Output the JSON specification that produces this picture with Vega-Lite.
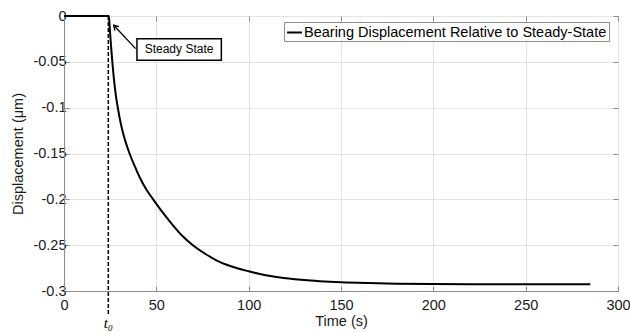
{
  "$schema": "https://vega.github.io/schema/vega-lite/v6.json",
  "width": 554,
  "height": 275,
  "autosize": {"type": "none"},
  "padding": {"left": 64, "top": 16, "right": 12, "bottom": 41},
  "background": "white",
  "config": {
    "font": "Liberation Sans",
    "view": {"stroke": "#8c8c8c", "strokeWidth": 1},
    "axis": {
      "labelFont": "Liberation Sans",
      "labelFontSize": 14.5,
      "labelColor": "#1a1a1a",
      "titleFont": "Liberation Sans",
      "titleFontSize": 14.5,
      "titleFontWeight": "normal",
      "titleColor": "#1a1a1a",
      "domainColor": "#8c8c8c",
      "tickColor": "#8c8c8c",
      "gridColor": "#e3e3e3",
      "gridWidth": 1
    }
  },
  "datasets": {
    "curve": [
      {"t": 0, "y": 0, "series": "Bearing Displacement Relative to Steady-State"},
      {"t": 24.3, "y": 0, "series": "Bearing Displacement Relative to Steady-State"},
      {"t": 24.8, "y": -0.014, "series": "Bearing Displacement Relative to Steady-State"},
      {"t": 25.3, "y": -0.028, "series": "Bearing Displacement Relative to Steady-State"},
      {"t": 25.8, "y": -0.041, "series": "Bearing Displacement Relative to Steady-State"},
      {"t": 26.3, "y": -0.053, "series": "Bearing Displacement Relative to Steady-State"},
      {"t": 26.9, "y": -0.066, "series": "Bearing Displacement Relative to Steady-State"},
      {"t": 27.6, "y": -0.079, "series": "Bearing Displacement Relative to Steady-State"},
      {"t": 28.4, "y": -0.091, "series": "Bearing Displacement Relative to Steady-State"},
      {"t": 29.3, "y": -0.102, "series": "Bearing Displacement Relative to Steady-State"},
      {"t": 30.5, "y": -0.115, "series": "Bearing Displacement Relative to Steady-State"},
      {"t": 32.0, "y": -0.128, "series": "Bearing Displacement Relative to Steady-State"},
      {"t": 33.6, "y": -0.139, "series": "Bearing Displacement Relative to Steady-State"},
      {"t": 35.5, "y": -0.150, "series": "Bearing Displacement Relative to Steady-State"},
      {"t": 38.0, "y": -0.1625, "series": "Bearing Displacement Relative to Steady-State"},
      {"t": 40.9, "y": -0.1756, "series": "Bearing Displacement Relative to Steady-State"},
      {"t": 44.5, "y": -0.189, "series": "Bearing Displacement Relative to Steady-State"},
      {"t": 48.1, "y": -0.1995, "series": "Bearing Displacement Relative to Steady-State"},
      {"t": 53.0, "y": -0.2132, "series": "Bearing Displacement Relative to Steady-State"},
      {"t": 59.0, "y": -0.2283, "series": "Bearing Displacement Relative to Steady-State"},
      {"t": 64.0, "y": -0.2397, "series": "Bearing Displacement Relative to Steady-State"},
      {"t": 69.8, "y": -0.25, "series": "Bearing Displacement Relative to Steady-State"},
      {"t": 76.0, "y": -0.2588, "series": "Bearing Displacement Relative to Steady-State"},
      {"t": 82.5, "y": -0.2665, "series": "Bearing Displacement Relative to Steady-State"},
      {"t": 90.0, "y": -0.2727, "series": "Bearing Displacement Relative to Steady-State"},
      {"t": 100.0, "y": -0.2785, "series": "Bearing Displacement Relative to Steady-State"},
      {"t": 110.0, "y": -0.2831, "series": "Bearing Displacement Relative to Steady-State"},
      {"t": 120.4, "y": -0.2861, "series": "Bearing Displacement Relative to Steady-State"},
      {"t": 130.0, "y": -0.2881, "series": "Bearing Displacement Relative to Steady-State"},
      {"t": 138.4, "y": -0.2893, "series": "Bearing Displacement Relative to Steady-State"},
      {"t": 150.0, "y": -0.2905, "series": "Bearing Displacement Relative to Steady-State"},
      {"t": 165.0, "y": -0.2914, "series": "Bearing Displacement Relative to Steady-State"},
      {"t": 180.0, "y": -0.2920, "series": "Bearing Displacement Relative to Steady-State"},
      {"t": 200.0, "y": -0.2924, "series": "Bearing Displacement Relative to Steady-State"},
      {"t": 225.0, "y": -0.2926, "series": "Bearing Displacement Relative to Steady-State"},
      {"t": 250.0, "y": -0.2927, "series": "Bearing Displacement Relative to Steady-State"},
      {"t": 285.0, "y": -0.2927, "series": "Bearing Displacement Relative to Steady-State"}
    ],
    "marker": [{"t": 24, "y": 0, "y2": -0.326, "ty": -0.335, "label": "t₀"}],
    "arrow": [{"t": 38.8, "y": -0.0356, "t2": 26.9, "y2": -0.0101}],
    "box": [{"t": 39.5, "t2": 85.2, "y": -0.0247, "y2": -0.0483, "tc": 62.3, "yc": -0.0365, "label": "Steady State"}]
  },
  "layer": [
    {
      "layer": [
        {
          "data": {"name": "curve"},
          "mark": {"type": "line", "strokeWidth": 2, "interpolate": "monotone"},
          "encoding": {
            "x": {"field": "t", "type": "quantitative", "title": "Time (s)",
                  "scale": {"domain": [0, 300], "nice": false, "zero": false},
                  "axis": {"values": [0, 50, 100, 150, 200, 250, 300], "tickSize": -5, "labelPadding": 12, "titlePadding": 3, "grid": true, "labelFlush": false}},
            "y": {"field": "y", "type": "quantitative", "title": "Displacement (μm)",
                  "scale": {"domain": [-0.3, 0], "nice": false, "zero": false},
                  "axis": {"values": [-0.3, -0.25, -0.2, -0.15, -0.1, -0.05, 0], "labelExpr": "replace(format(datum.value, '.2~f'), '−', '-')", "tickSize": -5, "labelPadding": 3, "titlePadding": 7, "grid": true, "labelFlush": false}},
            "color": {"field": "series", "type": "nominal",
                      "scale": {"range": ["black"]},
                      "legend": {"title": null, "orient": "none", "legendX": 220, "legendY": 6,
                                 "symbolType": "stroke", "symbolStrokeWidth": 2, "symbolSize": 220,
                                 "labelFontSize": 14.5, "labelFont": "Liberation Sans", "labelColor": "#000",
                                 "labelLimit": 0, "labelOffset": 1,
                                 "strokeColor": "#8c8c8c", "fillColor": "white", "padding": 2}}
          }
        },
        {
          "data": {"name": "marker"},
          "mark": {"type": "rule", "strokeDash": [4, 2], "strokeWidth": 1.5, "color": "black"},
          "encoding": {
            "x": {"field": "t", "type": "quantitative"},
            "y": {"field": "y", "type": "quantitative"},
            "y2": {"field": "y2"}
          }
        },
        {
          "data": {"name": "marker"},
          "mark": {"type": "text", "font": "Liberation Serif", "fontSize": 15, "fontStyle": "italic", "baseline": "middle", "align": "center", "color": "black"},
          "encoding": {
            "x": {"field": "t", "type": "quantitative"},
            "y": {"field": "ty", "type": "quantitative"},
            "text": {"field": "label"}
          }
        },
        {
          "data": {"name": "arrow"},
          "mark": {"type": "rule", "strokeWidth": 1.3, "color": "black"},
          "encoding": {
            "x": {"field": "t", "type": "quantitative"},
            "y": {"field": "y", "type": "quantitative"},
            "x2": {"field": "t2"},
            "y2": {"field": "y2"}
          }
        },
        {
          "data": {"name": "arrow"},
          "mark": {"type": "point", "shape": "M -0.6 1 L 0 0 L 0.6 1", "filled": false, "size": 90, "strokeWidth": 1.3, "color": "black", "angle": 316, "opacity": 1},
          "encoding": {
            "x": {"field": "t2", "type": "quantitative"},
            "y": {"field": "y2", "type": "quantitative"}
          }
        },
        {
          "data": {"name": "box"},
          "mark": {"type": "rect", "fill": "white", "stroke": "black", "strokeWidth": 1.5},
          "encoding": {
            "x": {"field": "t", "type": "quantitative"},
            "x2": {"field": "t2"},
            "y": {"field": "y", "type": "quantitative"},
            "y2": {"field": "y2"}
          }
        },
        {
          "data": {"name": "box"},
          "mark": {"type": "text", "fontSize": 12, "font": "Liberation Sans", "color": "black", "align": "center", "baseline": "middle"},
          "encoding": {
            "x": {"field": "tc", "type": "quantitative"},
            "y": {"field": "yc", "type": "quantitative"},
            "text": {"field": "label"}
          }
        }
      ]
    },
    {
      "data": {"name": "marker"},
      "mark": {"type": "point", "opacity": 0},
      "encoding": {
        "x": {"field": "t", "type": "quantitative",
              "axis": {"orient": "top", "values": [0, 50, 100, 150, 200, 250, 300], "labels": false, "tickSize": -5, "grid": false, "title": null, "domain": false}},
        "y": {"field": "y", "type": "quantitative",
              "axis": {"orient": "right", "values": [-0.3, -0.25, -0.2, -0.15, -0.1, -0.05, 0], "labels": false, "tickSize": -5, "grid": false, "title": null, "domain": false}}
      }
    }
  ],
  "resolve": {"axis": {"x": "independent", "y": "independent"}}
}
